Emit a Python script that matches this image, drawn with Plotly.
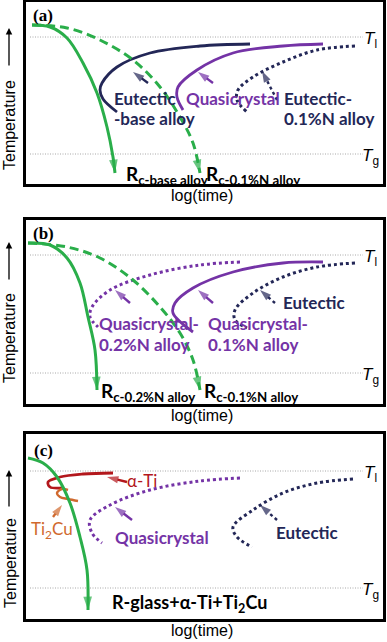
import plotly.graph_objects as go

W, H = 387, 642
# ---------------- data (log(time) units x, temperature units y) ----------------
T_LIQ = [147, 149, 148]
T_GLASS = [30, 31, 31]

# panel (a)
A_RC_BASE_X = [6, 24, 41, 57, 71, 81, 87, 89]
A_RC_BASE_Y = [159, 157, 146, 121, 91, 57, 27, 11]
A_RC_01N_X = [6, 41, 74, 107, 134, 154, 167, 174]
A_RC_01N_Y = [159, 156, 144, 124, 97, 67, 41, 11]
A_EUT_BASE_X = [224, 174, 124, 91, 76, 74, 77, 91]
A_EUT_BASE_Y = [140, 138, 131, 117, 101, 94, 85, 72]
A_QC_X = [297, 257, 207, 171, 152, 151, 157]
A_QC_Y = [140, 138, 131, 114, 97, 87, 74]
A_EUT_01N_X = [329, 291, 257, 227, 212, 211, 221]
A_EUT_01N_Y = [138, 134, 122, 107, 94, 84, 72]

# panel (b)
B_RC_02N_X = [2, 24, 41, 54, 62, 69, 71]
B_RC_02N_Y = [161, 159, 146, 121, 87, 54, 14]
B_RC_01N_X = [2, 41, 74, 107, 134, 154, 167, 174]
B_RC_01N_Y = [161, 157, 146, 124, 97, 71, 44, 14]
B_QC_02N_X = [214, 174, 124, 84, 66, 64, 72]
B_QC_02N_Y = [142, 139, 129, 114, 97, 87, 77]
B_QC_01N_X = [297, 257, 207, 167, 149, 147, 167]
B_QC_01N_Y = [142, 141, 132, 116, 101, 91, 72]
B_EUT_X = [329, 291, 257, 227, 209, 209, 221]
B_EUT_Y = [141, 137, 127, 111, 94, 84, 76]

# panel (c)
C_RC_X = [2, 17, 31, 44, 54, 61, 62]
C_RC_Y = [161, 156, 142, 116, 82, 49, 9]
C_ATI_X = [87, 57, 34, 22, 24, 36]
C_ATI_Y = [146, 145, 142, 137, 132, 131]
C_TI2CU_X = [42, 36, 31, 34, 42, 52]
C_TI2CU_Y = [129, 130, 126, 122, 120, 118]
C_QC_X = [214, 174, 124, 84, 64, 66, 76]
C_QC_Y = [141, 138, 129, 114, 99, 86, 76]
C_EUT_X = [327, 291, 257, 227, 207, 211, 226]
C_EUT_Y = [140, 136, 126, 109, 92, 82, 72]

GREEN = "#2aae4a"
NAVY = "#232757"
PURPLE = "#7433a6"
RED = "#b3171c"
ORANGE = "#d0692e"
GRAY = "#a8a8a8"

# panel geometry in pixels (left, right, top, bottom)
PANELS = [(26, 383, 2, 184), (26, 383, 220, 404), (26, 383, 434, 619)]

fig = go.Figure()

def ax(i):
    return ("x" if i == 0 else f"x{i+1}", "y" if i == 0 else f"y{i+1}")

def curve(i, xs, ys, color, dash="solid", width=2.8, arrow=False, asize=14):
    xa, ya = ax(i)
    kw = {}
    if arrow:
        n = len(xs)
        kw["mode"] = "lines+markers"
        kw["marker"] = dict(symbol=["circle"] * (n - 1) + ["arrow"],
                            size=[0] * (n - 1) + [asize], color=color,
                            angleref="previous", line=dict(width=0))
    else:
        kw["mode"] = "lines"
    fig.add_trace(go.Scatter(x=xs, y=ys, xaxis=xa, yaxis=ya, showlegend=False,
                             hoverinfo="skip",
                             line=dict(color=color, width=width, dash=dash,
                                       shape="spline" if len(xs) > 2 else "linear"),
                             **kw))

def small_arrow(i, x0, y0, x1, y1, color, dash="solid"):
    curve(i, [x0, x1], [y0, y1], color, dash=dash, width=2.4, arrow=True, asize=12)

# reference temperature lines
for i in range(3):
    for t in (T_LIQ[i], T_GLASS[i]):
        curve(i, [4, 337], [t, t], GRAY, dash="1px,1.5px", width=1)

# panel a
curve(0, A_EUT_BASE_X, A_EUT_BASE_Y, NAVY, width=2.8)
curve(0, A_QC_X, A_QC_Y, PURPLE, width=2.8)
curve(0, A_EUT_01N_X, A_EUT_01N_Y, NAVY, dash="3px,3px", width=3)
curve(0, A_RC_BASE_X, A_RC_BASE_Y, GREEN, width=3, arrow=True)
curve(0, A_RC_01N_X, A_RC_01N_Y, GREEN, dash="9px,5px", width=3, arrow=True)
small_arrow(0, 122, 101, 107, 112, NAVY)
small_arrow(0, 187, 101, 172, 112, PURPLE)
small_arrow(0, 251, 84, 236, 113, NAVY, dash="3px,3px")

# panel b
curve(1, B_QC_02N_X, B_QC_02N_Y, PURPLE, dash="3px,3px", width=3)
curve(1, B_QC_01N_X, B_QC_01N_Y, PURPLE, width=2.8)
curve(1, B_EUT_X, B_EUT_Y, NAVY, dash="3px,3px", width=3)
curve(1, B_RC_02N_X, B_RC_02N_Y, GREEN, width=3, arrow=True)
curve(1, B_RC_01N_X, B_RC_01N_Y, GREEN, dash="9px,5px", width=3, arrow=True)
small_arrow(1, 104, 101, 89, 114, PURPLE)
small_arrow(1, 187, 101, 172, 114, PURPLE)
small_arrow(1, 249, 101, 234, 114, NAVY, dash="3px,3px")

# panel c
curve(2, C_QC_X, C_QC_Y, PURPLE, dash="3px,3px", width=3)
curve(2, C_EUT_X, C_EUT_Y, NAVY, dash="3px,3px", width=3)
curve(2, C_ATI_X, C_ATI_Y, RED, width=2.8)
curve(2, C_TI2CU_X, C_TI2CU_Y, ORANGE, width=2.4)
curve(2, C_RC_X, C_RC_Y, GREEN, width=3, arrow=True)
small_arrow(2, 101, 137, 81, 142, RED)
small_arrow(2, 27, 102, 36, 114, ORANGE)
small_arrow(2, 106, 99, 89, 112, PURPLE)
small_arrow(2, 251, 99, 234, 114, NAVY, dash="3px,3px")

# ---------------- layout ----------------
layout = dict(width=W, height=H, margin=dict(l=0, r=0, t=0, b=0),
              paper_bgcolor="white", plot_bgcolor="white", showlegend=False)
for i, (l, r, t, b) in enumerate(PANELS):
    sfx = "" if i == 0 else str(i + 1)
    common = dict(showgrid=False, zeroline=False, showticklabels=False, ticks="",
                  showline=True, mirror=True, linecolor="black", linewidth=3,
                  fixedrange=True)
    layout["xaxis" + sfx] = dict(domain=[l / W, r / W], range=[0, r - l],
                                 anchor="y" + sfx, **common)
    layout["yaxis" + sfx] = dict(domain=[1 - b / H, 1 - t / H], range=[0, b - t],
                                 anchor="x" + sfx, **common)
fig.update_layout(**layout)

LATO = "Lato"
anns = []

def txt(i, x, y, s, color, size=17, xanchor="left", family=LATO, bold=True):
    xa, ya = ax(i)
    anns.append(dict(x=x, y=y, xref=xa, yref=ya, text=(f"<b>{s}</b>" if bold else s),
                     showarrow=False, xanchor=xanchor, yanchor="middle",
                     font=dict(family=family, size=size, color=color)))

# panel labels
for i, lab in enumerate(["(a)", "(b)", "(c)"]):
    txt(i, 17, [169, 171, 169][i], lab, "black", size=17, xanchor="center",
        family="Liberation Serif")
    # T_l / T_g
    txt(i, 344, T_LIQ[i] - 3, "<i>T</i><sub>l</sub>", "black", size=17,
        xanchor="center", family="Liberation Sans", bold=False)
    txt(i, 344, T_GLASS[i] - 3, "<i>T</i><sub>g</sub>", "black", size=17,
        xanchor="center", family="Liberation Sans", bold=False)

txt(0, 86, 86, "Eutectic", NAVY)
txt(0, 86, 66, "-base alloy", NAVY)
txt(0, 158, 86, "Quasicrystal", PURPLE)
txt(0, 256, 86, "Eutectic-", NAVY)
txt(0, 256, 66, "0.1%N alloy", NAVY)
txt(0, 98, 9, "R<sub>c-base alloy</sub>", "black", size=19)
txt(0, 178, 9, "R<sub>c-0.1%N alloy</sub>", "black", size=19)

txt(1, 71, 81, "Quasicrystal-", PURPLE)
txt(1, 71, 60, "0.2%N alloy", PURPLE)
txt(1, 180, 81, "Quasicrystal-", PURPLE)
txt(1, 180, 60, "0.1%N alloy", PURPLE)
txt(1, 255, 102, "Eutectic", NAVY)
txt(1, 73, 12, "R<sub>c-0.2%N alloy</sub>", "black", size=19)
txt(1, 176, 12, "R<sub>c-0.1%N alloy</sub>", "black", size=19)

txt(2, 116, 139, "α-Ti", RED, xanchor="center", bold=False)
txt(2, 26, 89, "Ti<sub>2</sub>Cu", ORANGE, xanchor="center", bold=False)
txt(2, 136, 82, "Quasicrystal", PURPLE, xanchor="center")
txt(2, 281, 87, "Eutectic", NAVY, xanchor="center")
txt(2, 84, 16, "R-glass+α-Ti+Ti<sub>2</sub>Cu", "black", size=18)

# axis titles and temperature arrows (paper coords)
TEMP_CENTER = [125, 338, 563]
ARROW_TOP = [28, 242, 470]
ARROW_BOT = [67, 281, 508]
XLAB = [195, 415, 630]
for i in range(3):
    anns.append(dict(x=202 / W, y=1 - XLAB[i] / H, xref="paper", yref="paper",
                     text="log(time)", showarrow=False, xanchor="center",
                     yanchor="middle",
                     font=dict(family="Liberation Sans", size=16, color="black")))
    anns.append(dict(x=10 / W, y=1 - TEMP_CENTER[i] / H, xref="paper", yref="paper",
                     text="Temperature", textangle=-90, showarrow=False,
                     xanchor="center", yanchor="middle",
                     font=dict(family="Liberation Sans", size=16, color="black")))
    anns.append(dict(x=9 / W, y=1 - ARROW_TOP[i] / H, ax=0, ay=ARROW_BOT[i] - ARROW_TOP[i],
                     xref="paper", yref="paper", axref="pixel", ayref="pixel",
                     text="", showarrow=True, arrowhead=2, arrowsize=1,
                     arrowwidth=1.3, arrowcolor="black", standoff=0))

fig.update_layout(annotations=anns)
fig.write_html("out.html", config={"displayModeBar": False},
               post_script="document.body.style.margin='0';")
